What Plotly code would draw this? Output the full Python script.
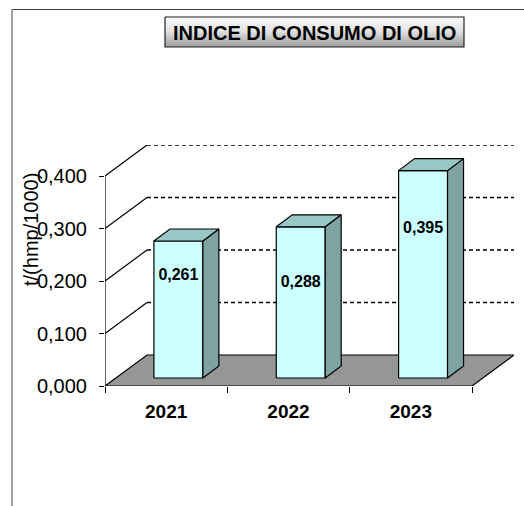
import plotly.graph_objects as go

# ---- data ----
years = ["2021", "2022", "2023"]
values = [0.261, 0.288, 0.395]
value_text = ["0,261", "0,288", "0,395"]
tick_vals = [0.0, 0.1, 0.2, 0.3, 0.4]
tick_text = ["0,000", "0,100", "0,200", "0,300", "0,400"]
chart_title = "INDICE DI CONSUMO DI OLIO"
y_title = "t/(hmp/1000)"

# ---- style / geometry ----
W, H = 524, 506
PX_X = 122.33          # px per category slot
PX_Y = 525.0           # px per value unit
PLOT_L, PLOT_R, PLOT_T, PLOT_B = 105, 514, 145, 386
WALL_DX = 42 / PX_X    # depth offset of back wall
WALL_DY = 31 / PX_Y
BAR_X0 = 0.40
BAR_W = 0.40
BAR_BASE = 8 / PX_Y
BAR_DX = 16 / PX_X
BAR_DY = 12 / PX_Y
LABEL_FRAC = [0.744, 0.628, 0.718]
FONT = "Arial, Liberation Sans, sans-serif"
FRONT = "#CCFFFF"
SIDE = "#7FA3A3"
TOP = "#99C7C5"
FLOOR = "#969696"

n = len(years)
x_max = n + WALL_DX
y_max = (PLOT_B - PLOT_T) / PX_Y

fig = go.Figure()

# floor
fig.add_trace(go.Scatter(
    x=[0, n, n + WALL_DX, WALL_DX, 0], y=[0, 0, WALL_DY, WALL_DY, 0],
    mode="lines", fill="toself", fillcolor=FLOOR,
    line=dict(color="black", width=1.2), hoverinfo="skip", showlegend=False))

# left wall diagonals + y axis line
wx, wy = [0, 0, None], [0, max(tick_vals), None]
for v in tick_vals[1:]:
    wx += [0, WALL_DX, None]
    wy += [v, v + WALL_DY, None]
fig.add_trace(go.Scatter(x=wx, y=wy, mode="lines",
                         line=dict(color="black", width=1.2),
                         hoverinfo="skip", showlegend=False))

# back wall dashed gridlines
gx, gy = [], []
for v in tick_vals[1:]:
    gx += [WALL_DX, n + WALL_DX, None]
    gy += [v + WALL_DY, v + WALL_DY, None]
fig.add_trace(go.Scatter(x=gx, y=gy, mode="lines",
                         line=dict(color="black", width=1.4, dash="4px,3px"),
                         hoverinfo="skip", showlegend=False))

# 3D bars
for i, v in enumerate(values):
    x0 = i + BAR_X0
    x1 = x0 + BAR_W
    b = BAR_BASE
    t = BAR_BASE + v
    faces = [
        ([x0, x1, x1, x0, x0], [b, b, t, t, b], FRONT),
        ([x1, x1 + BAR_DX, x1 + BAR_DX, x1, x1],
         [b, b + BAR_DY, t + BAR_DY, t, b], SIDE),
        ([x0, x1, x1 + BAR_DX, x0 + BAR_DX, x0],
         [t, t, t + BAR_DY, t + BAR_DY, t], TOP),
    ]
    for fx, fy, col in faces:
        fig.add_trace(go.Scatter(x=fx, y=fy, mode="lines", fill="toself",
                                 fillcolor=col,
                                 line=dict(color="black", width=1.2),
                                 hoverinfo="skip", showlegend=False))

# data labels
fig.add_trace(go.Scatter(
    x=[i + BAR_X0 + BAR_W / 2 for i in range(n)],
    y=[BAR_BASE + v * f for v, f in zip(values, LABEL_FRAC)],
    mode="text", text=value_text,
    textfont=dict(family=FONT, size=16, color="black", weight="bold"),
    hoverinfo="skip", showlegend=False))

# title box (decor axes in pixel units)
bx0, bx1, by0, by1 = 165, 464, 17, 47
fig.add_trace(go.Scatter(
    x=[bx0, bx1, bx1, bx0, bx0], y=[by0, by0, by1, by1, by0],
    xaxis="x2", yaxis="y2", mode="lines", fill="toself",
    fillgradient=dict(type="vertical", start=by0, stop=by1,
                      colorscale=[[0, "#fafafa"], [0.45, "#e4e4e4"],
                                  [1, "#9c9c9c"]]),
    line=dict(color="#202020", width=1.2),
    hoverinfo="skip", showlegend=False))

fig.add_annotation(x=(bx0 + bx1) / 2, y=(by0 + by1) / 2 + 1, xref="x2", yref="y2",
                   text=chart_title, showarrow=False,
                   font=dict(family=FONT, size=20, color="black", weight="bold"))
fig.add_annotation(x=31, y=230, xref="x2", yref="y2", text=y_title,
                   textangle=-90, showarrow=False,
                   font=dict(family=FONT, size=20, color="black"))

# outer frame
fig.add_shape(type="rect", xref="x2", yref="y2", x0=12, y0=9.5, x1=W + 20, y1=H + 20,
              line=dict(color="#404040", width=1), fillcolor="rgba(0,0,0,0)")

fig.update_layout(
    width=W, height=H,
    margin=dict(l=0, r=0, t=0, b=0),
    paper_bgcolor="white", plot_bgcolor="rgba(0,0,0,0)",
    showlegend=False,
    xaxis=dict(domain=[PLOT_L / W, PLOT_R / W], range=[0, x_max],
               tickvals=[i + 0.5 for i in range(n)], ticktext=years,
               ticks="", showgrid=False, zeroline=False, showline=False,
               tickfont=dict(family=FONT, size=19, color="black", weight="bold"),
               ticklabelstandoff=12,
               minor=dict(ticks="outside", tick0=0, dtick=1, ticklen=6,
                          tickcolor="black", tickwidth=1, showgrid=False),
               automargin=False, fixedrange=True),
    yaxis=dict(domain=[(H - PLOT_B) / H, (H - PLOT_T) / H], range=[0, y_max],
               tickvals=tick_vals, ticktext=tick_text,
               ticks="outside", ticklen=5, tickcolor="black", tickwidth=1,
               showgrid=False, zeroline=False, showline=False,
               tickfont=dict(family=FONT, size=20, color="black"),
               ticklabelstandoff=8,
               automargin=False, fixedrange=True),
    xaxis2=dict(domain=[0, 1], range=[0, W], visible=False, anchor="y2",
                fixedrange=True),
    yaxis2=dict(domain=[0, 1], range=[H, 0], visible=False, anchor="x2",
                fixedrange=True),
)

fig.write_html("out.html", config={"displayModeBar": False},
               post_script="document.body.style.margin='0';document.body.style.overflow='hidden';")
